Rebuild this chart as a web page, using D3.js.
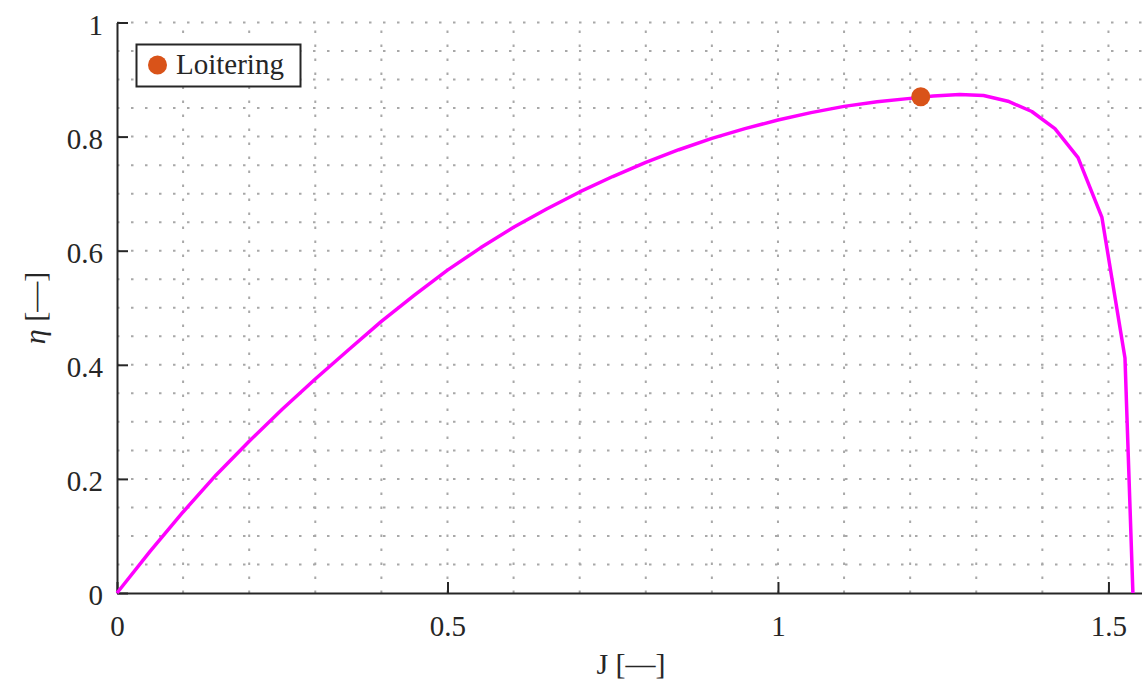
<!DOCTYPE html>
<html>
<head>
<meta charset="utf-8">
<script src="https://cdn.jsdelivr.net/npm/d3@7"></script>
<style>
  body { margin: 0; background: #fff; }
  svg { display: block; }
  text { font-family: "Liberation Serif", "Times New Roman", serif; fill: #262626; }
</style>
</head>
<body>
<div id="chart"></div>
<script>
// advance ratio J and efficiency eta
var advRatio = [0, 0.05, 0.1, 0.15, 0.2, 0.25, 0.3, 0.35, 0.4, 0.45, 0.5, 0.55, 0.6, 0.65, 0.7, 0.75,
                0.8, 0.85, 0.9, 0.95, 1.0, 1.05, 1.1, 1.15, 1.2, 1.235, 1.275, 1.311, 1.348, 1.384,
                1.419, 1.454, 1.49, 1.525, 1.537];
var efficiency = [0, 0.073, 0.142, 0.207, 0.266, 0.322, 0.375, 0.426, 0.476, 0.522, 0.566, 0.605, 0.641, 0.673, 0.703, 0.730,
                  0.755, 0.777, 0.797, 0.814, 0.829, 0.842, 0.853, 0.861, 0.867, 0.871, 0.874, 0.872, 0.862, 0.844,
                  0.814, 0.763, 0.659, 0.412, 0];
var loiterJ = [1.216];
var loiterEta = [0.870];
var xTicks = [0, 0.5, 1, 1.5];
var yTicks = [0, 0.2, 0.4, 0.6, 0.8, 1];
var xGrid = d3.range(1, 16).map(function(i) { return i / 10; });
var yGrid = d3.range(1, 21).map(function(i) { return i / 20; });

var W = 1143, H = 685;
var svg = d3.select("#chart").append("svg")
    .attr("width", W)
    .attr("height", H);

var x = d3.scaleLinear().domain([0, 1.55]).range([117, 1141.5]);
var y = d3.scaleLinear().domain([0, 1]).range([593, 22.5]);

// dotted grid
svg.append("g")
  .selectAll("line")
  .data(xGrid)
  .enter().append("line")
    .attr("x1", function(d) { return x(d); })
    .attr("x2", function(d) { return x(d); })
    .attr("y1", y(0))
    .attr("y2", y(1))
    .attr("stroke", "#a8a8a8")
    .attr("stroke-width", 2)
    .attr("stroke-dasharray", "2.5,11.5");

svg.append("g")
  .selectAll("line")
  .data(yGrid)
  .enter().append("line")
    .attr("x1", x(0))
    .attr("x2", x(1.55))
    .attr("y1", function(d) { return y(d); })
    .attr("y2", function(d) { return y(d); })
    .attr("stroke", "#a8a8a8")
    .attr("stroke-width", 2)
    .attr("stroke-dasharray", "2.5,11.5");

// axes
var xAxis = svg.append("g")
    .attr("transform", "translate(0," + y(0) + ")")
    .call(d3.axisBottom(x).tickValues(xTicks).tickSizeInner(-11).tickSizeOuter(0)
      .tickFormat(function(d) { return d3.format("")(d); }));
xAxis.select(".domain").attr("stroke", "#262626").attr("stroke-width", 2);
xAxis.selectAll(".tick line").attr("stroke", "#262626").attr("stroke-width", 2);
xAxis.selectAll(".tick text")
    .attr("y", 0).attr("dy", 43)
    .style("font-size", "29px")
    .style("font-family", "'Liberation Serif', serif")
    .attr("fill", "#262626");

var yAxis = svg.append("g")
    .attr("transform", "translate(" + x(0) + ",0)")
    .call(d3.axisLeft(y).tickValues(yTicks).tickSizeInner(-11).tickSizeOuter(0)
      .tickFormat(function(d) { return d3.format("")(d); }));
yAxis.select(".domain").attr("stroke", "#262626").attr("stroke-width", 2);
yAxis.selectAll(".tick line").attr("stroke", "#262626").attr("stroke-width", 2);
yAxis.selectAll(".tick text")
    .attr("x", -14).attr("dy", "0.4em")
    .style("font-size", "29px")
    .style("font-family", "'Liberation Serif', serif")
    .attr("fill", "#262626");

// efficiency curve
var pts = advRatio.map(function(d, i) { return [d, efficiency[i]]; });
var line = d3.line()
    .x(function(d) { return x(d[0]); })
    .y(function(d) { return y(d[1]); });

svg.append("path")
    .datum(pts)
    .attr("fill", "none")
    .attr("stroke", "#ff00ff")
    .attr("stroke-width", 3.5)
    .attr("stroke-linejoin", "round")
    .attr("d", line);

// loitering point
svg.append("g")
  .selectAll("circle")
  .data(loiterJ)
  .enter().append("circle")
    .attr("cx", function(d) { return x(d); })
    .attr("cy", function(d, i) { return y(loiterEta[i]); })
    .attr("r", 9.5)
    .attr("fill", "#d95319");

// legend
svg.append("rect")
    .attr("x", 136.5)
    .attr("y", 44.5)
    .attr("width", 164)
    .attr("height", 42)
    .attr("fill", "#fff")
    .attr("stroke", "#262626")
    .attr("stroke-width", 2);
svg.append("circle")
    .attr("cx", 157.5)
    .attr("cy", 65)
    .attr("r", 9.5)
    .attr("fill", "#d95319");
svg.append("text")
    .attr("x", 176)
    .attr("y", 74)
    .text("Loitering")
    .style("font-size", "29px");

// axis labels
svg.append("text")
    .attr("x", 631)
    .attr("y", 674)
    .attr("text-anchor", "middle")
    .style("font-size", "30px")
    .text("J [\u2014]");

svg.append("text")
    .attr("transform", "translate(45,308) rotate(-90)")
    .attr("text-anchor", "middle")
    .style("font-size", "30px")
    .html("<tspan font-style='italic'>\u03b7</tspan> [\u2014]");
</script>
</body>
</html>
